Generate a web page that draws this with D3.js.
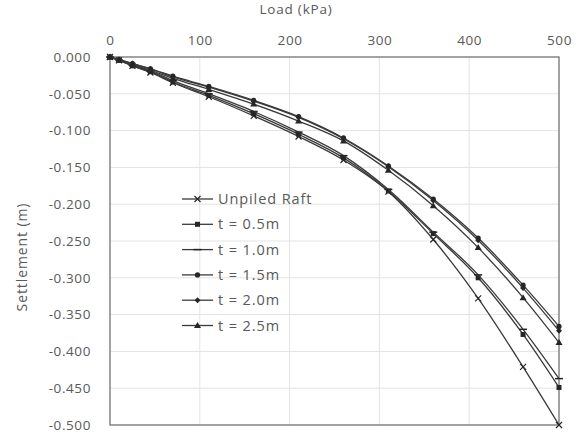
<!DOCTYPE html>
<html><head><meta charset="utf-8">
<script src="https://cdn.jsdelivr.net/npm/d3@7"></script>
<style>
body{margin:0;background:#fff;}
text{font-family:"Open Sans",sans-serif;fill:#595959;}
</style></head>
<body><svg id="c" width="576" height="435"></svg>
<script>
const loads = [0, 10, 25, 45, 70, 110, 160, 210, 260, 310, 360, 410, 460, 500];
const unpiledRaft = [0, -0.0045, -0.012, -0.021, -0.035, -0.054, -0.080, -0.108, -0.140, -0.183, -0.248, -0.328, -0.421, -0.500];
const t05 = [0, -0.0045, -0.012, -0.020, -0.034, -0.052, -0.077, -0.105, -0.137, -0.182, -0.240, -0.300, -0.377, -0.449];
const t10 = [0, -0.004, -0.011, -0.019, -0.032, -0.050, -0.074, -0.102, -0.134, -0.180, -0.238, -0.296, -0.370, -0.437];
const t15 = [0, -0.0035, -0.009, -0.016, -0.026, -0.040, -0.059, -0.081, -0.110, -0.148, -0.193, -0.246, -0.310, -0.366];
const t20 = [0, -0.0035, -0.009, -0.016, -0.027, -0.041, -0.060, -0.082, -0.111, -0.149, -0.195, -0.249, -0.314, -0.372];
const t25 = [0, -0.004, -0.010, -0.018, -0.029, -0.044, -0.064, -0.087, -0.114, -0.154, -0.202, -0.259, -0.327, -0.388];
const seriesNames = ["Unpiled Raft", "t = 0.5m", "t = 1.0m", "t = 1.5m", "t = 2.0m", "t = 2.5m"];
const seriesValues = [unpiledRaft, t05, t10, t15, t20, t25];
const markerTypes = ["x", "square", "dash", "circle", "diamond", "triangle"];
const xTicks = [0, 100, 200, 300, 400, 500];
const yTicks = [0, -0.05, -0.1, -0.15, -0.2, -0.25, -0.3, -0.35, -0.4, -0.45, -0.5];

const svg = d3.select("#c");
const L = 110, R = 559, T = 57, B = 425;
const x = d3.scaleLinear().domain([0, 500]).range([L, R]);
const y = d3.scaleLinear().domain([-0.5, 0]).range([B, T]);

// gridlines
svg.append("g").selectAll("line").data(yTicks).join("line")
  .attr("x1", L).attr("x2", R).attr("y1", d => y(d)).attr("y2", d => y(d))
  .attr("stroke", "#e3e3e3").attr("stroke-width", 1);
svg.append("g").selectAll("line").data(xTicks).join("line")
  .attr("y1", T).attr("y2", B).attr("x1", d => x(d)).attr("x2", d => x(d))
  .attr("stroke", "#e3e3e3").attr("stroke-width", 1);

// frame
svg.append("rect").attr("x", L).attr("y", T).attr("width", R - L).attr("height", B - T)
  .attr("fill", "none").attr("stroke", "#6f6f6f").attr("stroke-width", 1.2);

// axes
const xAxis = svg.append("g").attr("transform", `translate(0,${T})`)
  .call(d3.axisTop(x).tickValues(xTicks).tickSize(0).tickPadding(12).tickFormat(d3.format("d")));
xAxis.select(".domain").remove();
xAxis.selectAll("text").style("font-size", "13.5px").style("letter-spacing", "0.6px").attr("fill", "#595959");

const yAxis = svg.append("g").attr("transform", `translate(${L},0)`)
  .call(d3.axisLeft(y).tickValues(yTicks).tickSize(0).tickPadding(19).tickFormat(d3.format(".3f")));
yAxis.select(".domain").remove();
yAxis.selectAll("text").style("font-size", "13.5px").style("letter-spacing", "0.6px").attr("fill", "#595959")
  .text(d => d3.format(".3f")(d).replace("−", "-"));

// titles
svg.append("text").attr("x", 296).attr("y", 14).attr("text-anchor", "middle")
  .style("font-size", "13.5px").style("letter-spacing", "0.8px").text("Load (kPa)");
svg.append("text").attr("transform", "translate(27,257) rotate(-90)").attr("text-anchor", "middle")
  .style("font-size", "14px").style("letter-spacing", "0.9px").text("Settlement (m)");

// markers
function drawMarker(g, type, cx, cy) {
  const c = "#262626";
  if (type === "x") {
    g.append("path").attr("d", `M${cx-3},${cy-3}L${cx+3},${cy+3}M${cx-3},${cy+3}L${cx+3},${cy-3}`)
      .attr("stroke", c).attr("stroke-width", 1.2).attr("fill", "none");
  } else if (type === "square") {
    g.append("rect").attr("x", cx - 2.5).attr("y", cy - 2.5).attr("width", 5).attr("height", 5).attr("fill", c);
  } else if (type === "dash") {
    g.append("path").attr("d", `M${cx-4},${cy}L${cx+4},${cy}`).attr("stroke", c).attr("stroke-width", 1.5);
  } else if (type === "circle") {
    g.append("circle").attr("cx", cx).attr("cy", cy).attr("r", 2.6).attr("fill", c);
  } else if (type === "diamond") {
    g.append("path").attr("d", `M${cx},${cy-3}L${cx+3},${cy}L${cx},${cy+3}L${cx-3},${cy}Z`).attr("fill", c);
  } else if (type === "triangle") {
    g.append("path").attr("d", `M${cx},${cy-3.5}L${cx+3.5},${cy+2.5}L${cx-3.5},${cy+2.5}Z`).attr("fill", c);
  }
}

const line = d3.line().x(d => x(d[0])).y(d => y(d[1])).curve(d3.curveMonotoneX);
seriesValues.forEach((vals, i) => {
  const pts = loads.map((l, j) => [l, vals[j]]);
  const g = svg.append("g");
  g.append("path").datum(pts).attr("d", line).attr("fill", "none")
    .attr("stroke", "#3a3a3a").attr("stroke-width", 1.3);
  pts.forEach(p => drawMarker(g, markerTypes[i], x(p[0]), y(p[1])));
});

// legend
const lg = svg.append("g");
seriesNames.forEach((name, i) => {
  const yy = 199 + i * 25.3;
  lg.append("line").attr("x1", 182).attr("x2", 213).attr("y1", yy).attr("y2", yy)
    .attr("stroke", "#3a3a3a").attr("stroke-width", 1.3);
  drawMarker(lg, markerTypes[i], 197.5, yy);
  lg.append("text").attr("x", 218).attr("y", yy + 5).style("font-size", "14.5px")
    .style("letter-spacing", "0.9px").text(name);
});
</script></body></html>
